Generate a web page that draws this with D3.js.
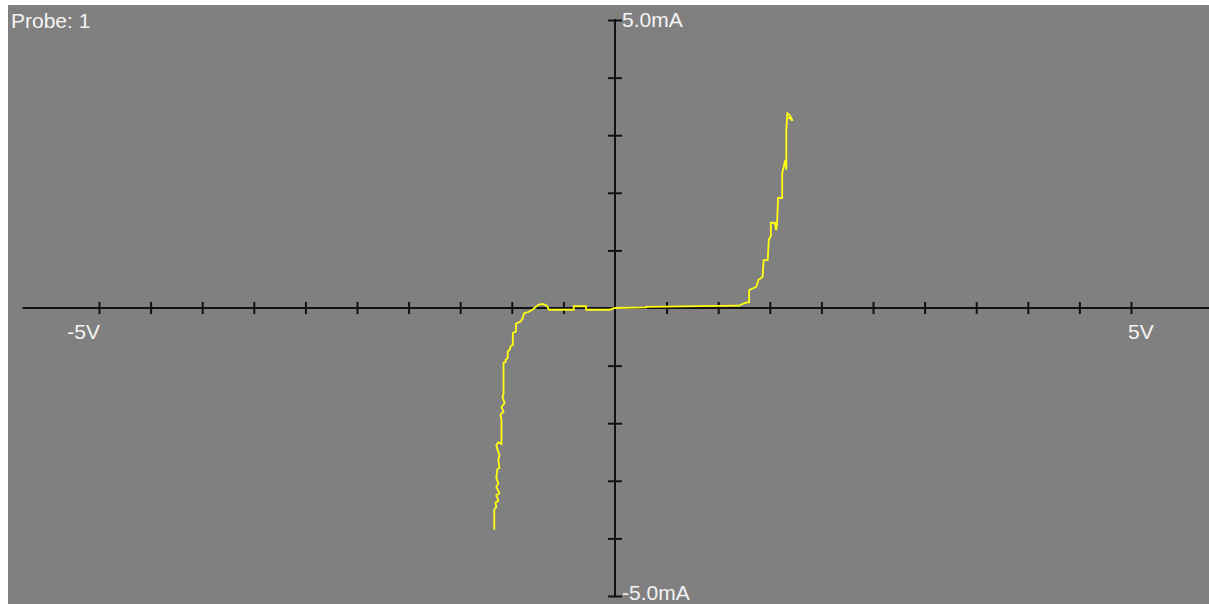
<!DOCTYPE html>
<html>
<head>
<meta charset="utf-8">
<script src="https://cdn.jsdelivr.net/npm/d3@7"></script>
<style>
  html, body { margin: 0; padding: 0; background: #ffffff; }
  svg { display: block; }
  text { font-family: "Liberation Sans", Arial, sans-serif; fill: #f4f4f4; font-size: 21px; }
</style>
</head>
<body>
<div id="scope"></div>
<script>
// I-V trace, volts and milliamps
var volts = [-1.17, -1.17, -1.15, -1.16, -1.13, -1.15, -1.12, -1.15, -1.13, -1.15, -1.14, -1.12,
  -1.13, -1.12, -1.14, -1.15, -1.13, -1.10, -1.10, -1.10, -1.11, -1.08, -1.10, -1.07, -1.09, -1.08,
  -1.08, -1.08, -1.06, -1.06, -1.04, -1.04, -1.02, -1.01, -0.99, -0.99, -0.96, -0.96, -0.92, -0.90,
  -0.88, -0.84, -0.80, -0.74, -0.70, -0.66, -0.64, -0.40, -0.40, -0.28, -0.28, -0.05, 0.0,
  0.30, 0.30, 1.20, 1.26, 1.30, 1.30, 1.37, 1.39, 1.43, 1.44, 1.48, 1.49, 1.51, 1.51, 1.55, 1.56,
  1.57, 1.58, 1.62, 1.62, 1.65, 1.66, 1.66, 1.67, 1.70, 1.72, 1.69, 1.67];
var milliamps = [-3.85, -3.50, -3.45, -3.38, -3.35, -3.25, -3.22, -3.10, -3.05, -2.95, -2.80, -2.78,
  -2.64, -2.55, -2.45, -2.38, -2.33, -2.36, -2.25, -1.95, -1.85, -1.80, -1.72, -1.65, -1.55, -1.50,
  -1.30, -0.95, -0.94, -0.90, -0.87, -0.76, -0.72, -0.66, -0.64, -0.43, -0.41, -0.27, -0.24, -0.20,
  -0.09, -0.07, -0.03, 0.06, 0.07, 0.04, -0.03, -0.03, 0.03, 0.03, -0.03, -0.03, 0.0,
  0.01, 0.02, 0.04, 0.09, 0.10, 0.31, 0.37, 0.49, 0.54, 0.83, 0.83, 1.18, 1.25, 1.48, 1.48, 1.35,
  1.45, 1.91, 1.91, 2.34, 2.57, 2.40, 3.09, 3.38, 3.33, 3.25, 3.30, 3.30];

var xTicks = d3.range(-5, 5.01, 0.5).filter(function (d) { return d !== 0; });
var yTicks = [-5, -4, -3, -2, -1, 1, 2, 3, 4, 5];
var xLabels = [{ v: -5, text: "-5V" }, { v: 5, text: "5V" }];
var yLabels = [{ v: 5, text: "5.0mA" }, { v: -5, text: "-5.0mA" }];
var probeLabel = "Probe: 1";

var width = 1209;
var height = 604;

var x = d3.scaleLinear().domain([-5, 5]).range([99, 1131]);
var y = d3.scaleLinear().domain([-5, 5]).range([596, 20]);

var svg = d3.select("#scope").append("svg")
  .attr("width", width)
  .attr("height", height);

// screen area
svg.append("rect")
  .attr("x", 8).attr("y", 5)
  .attr("width", width - 8).attr("height", height - 5)
  .attr("fill", "#808080");

// horizontal axis
var gx = svg.append("g")
  .attr("transform", "translate(0," + y(0) + ")")
  .call(d3.axisBottom(x).tickValues(xTicks).tickFormat("").tickSizeOuter(0));
gx.select(".domain").remove();
gx.selectAll(".tick line").attr("y1", -6).attr("y2", 6)
  .attr("stroke", "#111").attr("stroke-width", 2);
gx.append("line")
  .attr("x1", x(-5.74)).attr("x2", width)
  .attr("stroke", "#111").attr("stroke-width", 2);

// vertical axis
var gy = svg.append("g")
  .attr("transform", "translate(" + x(0) + ",0)")
  .call(d3.axisLeft(y).tickValues(yTicks).tickFormat("").tickSizeOuter(0));
gy.select(".domain").remove();
gy.selectAll(".tick line").attr("x1", -7).attr("x2", 7)
  .attr("stroke", "#111").attr("stroke-width", 2);
gy.append("line")
  .attr("y1", y(5) - 1).attr("y2", y(-5) + 1)
  .attr("stroke", "#111").attr("stroke-width", 2);

// trace
var trace = d3.line()
  .x(function (d, i) { return x(volts[i]); })
  .y(function (d, i) { return y(milliamps[i]); });

svg.append("path")
  .datum(volts)
  .attr("d", trace)
  .attr("fill", "none")
  .attr("stroke", "#ffff10")
  .attr("stroke-width", 1.8)
  .attr("stroke-linejoin", "miter");

// labels
svg.append("text").attr("x", 11).attr("y", 28).text(probeLabel);

svg.selectAll(".xlab").data(xLabels).enter().append("text")
  .attr("x", function (d) { return d.v < 0 ? x(d.v) + 1 : x(d.v) - 3; })
  .attr("y", y(0) + 31)
  .attr("text-anchor", function (d) { return d.v < 0 ? "end" : "start"; })
  .text(function (d) { return d.text; });

svg.selectAll(".ylab").data(yLabels).enter().append("text")
  .attr("x", x(0) + 7)
  .attr("y", function (d) { return d.v > 0 ? y(d.v) + 7 : y(d.v) + 4; })
  .text(function (d) { return d.text; });
</script>
</body>
</html>
